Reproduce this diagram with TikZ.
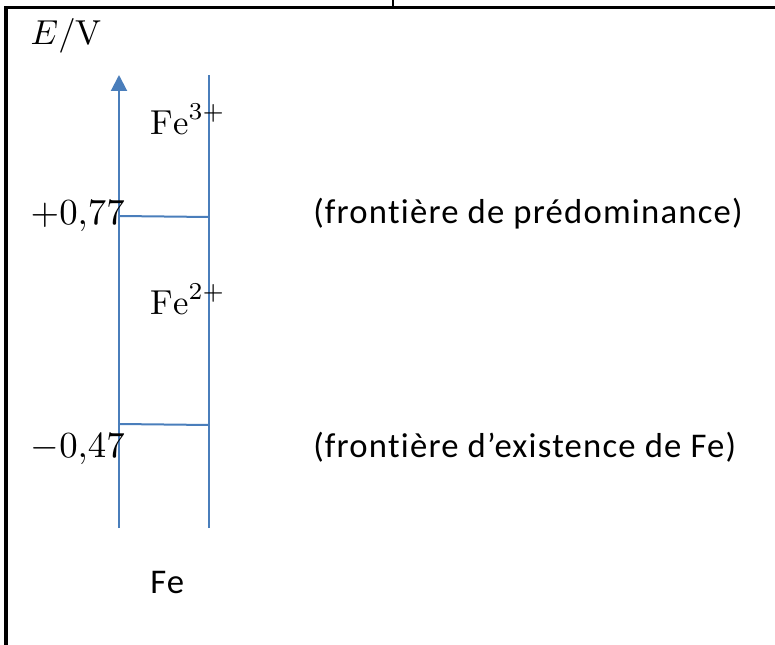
\documentclass[tikz,border=0pt]{standalone}
\usepackage{fontspec}
\setsansfont{Carlito}[Ligatures=NoCommon, LetterSpace=3.5]
\usetikzlibrary{arrows.meta}
\definecolor{diagblue}{RGB}{74,126,187}
\tikzset{
  boundary/.style={draw=diagblue, line width=1.5pt},
  species/.style={anchor=base west, inner sep=0pt, scale=2.6},
  value/.style={species, scale=1.06},
  note/.style={anchor=base west, inner sep=0pt, font=\sffamily\fontsize{26}{31}\selectfont},
}
\begin{document}
\begin{tikzpicture}[x=0.75pt, y=-0.75pt, line join=miter]
  \useasboundingbox (0,0) rectangle (775,645);
  % frame
  \draw[line width=2.6pt] (6,645) -- (6,7.5) -- (776,7.5);
  \draw[line width=1.5pt] (393,0) -- (393,7.5);
  % axis and boundaries
  \coordinate (axbot) at (119,528);
  \coordinate (axtop) at (119,75);
  \coordinate (rbot) at (209,528);
  \coordinate (rtop) at (209,75);
  \coordinate (predl) at (119,216);
  \coordinate (predr) at (209,217);
  \coordinate (exl) at (119,424);
  \coordinate (exr) at (209,425);
  \draw[boundary, -{Triangle[width=12pt, length=12pt]}] (axbot) -- (axtop);
  \draw[boundary] (rbot) -- (rtop);
  \draw[boundary] (predl) -- (predr);
  \draw[boundary] (exl) -- (exr);
  % labels
  \node[species] (ev) at (30,45) {$E/\mathrm{V}$};
  \node[species] (fe3) at (150,135) {$\mathrm{Fe}^{3+}$};
  \node[species] (fe2) at (150,315) {$\mathrm{Fe}^{2+}$};
  \node[note] (fe) at (150,593) {Fe};
  \node[value] (up) at (30,225) {$+0{,}77$};
  \node[value] (lo) at (30,457) {$-0{,}47$};
  \node[note] (pred) at (313,224) {(frontière de prédominance)};
  \node[note] (exist) at (313,457) {(frontière d’existence de Fe)};
\end{tikzpicture}
\end{document}
